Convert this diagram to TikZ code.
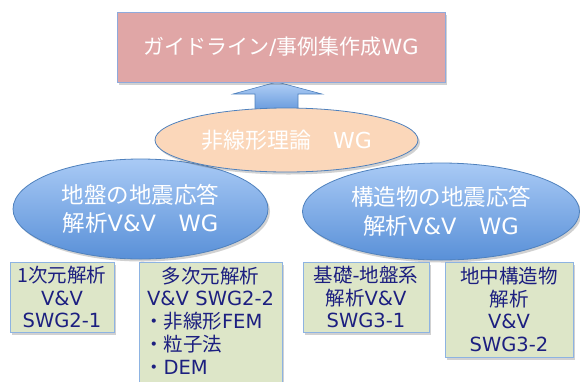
\documentclass[tikz,border=0pt]{standalone}
\usepackage{fontspec}
\setmainfont{Noto Sans CJK JP}
\newfontfamily\latfont{DejaVu Sans}
\newcommand\latn[1]{{\latfont #1}}
\usetikzlibrary{shapes.geometric,shadows}
\definecolor{topfill}{HTML}{E0A6A6}
\definecolor{topdraw}{HTML}{8FAADC}
\definecolor{peach}{HTML}{FBD7BA}
\definecolor{edgeblue}{HTML}{4F81BD}
\definecolor{elltop}{HTML}{A9CAF5}
\definecolor{ellbot}{HTML}{5990D8}
\definecolor{boxfill}{HTML}{DDE6C8}
\definecolor{boxdraw}{HTML}{8DB3E2}
\definecolor{navy}{HTML}{1C1F80}
\tikzset{
  softshadow/.style={drop shadow={shadow xshift=2pt,shadow yshift=-2.5pt,opacity=0.3,fill=black!60}},
  blueell/.style={ellipse,draw=edgeblue,line width=0.8pt,top color=elltop,bottom color=ellbot,
    inner sep=0pt,align=center,text=white,font=\fontsize{22.5}{28.5}\selectfont,softshadow},
  subbox/.style={rectangle,draw=boxdraw,line width=1pt,fill=boxfill,softshadow},
  boxtext/.style={text=navy,font=\fontsize{19.5}{22.8}\selectfont,inner sep=0pt,align=center}
}
\begin{document}
\begin{tikzpicture}[x=1pt,y=-1pt]
\useasboundingbox (0,0) rectangle (580,381);
\clip (0,0) rectangle (580,381);
% blue ellipses
\node[blueell,minimum width=255pt,minimum height=100pt] (gnd) at (140.5,209)
  {地盤の地震応答\\解析\latn{V\&V}　\latn{WG}};
\node[blueell,minimum width=277pt,minimum height=97pt] (str) at (441,211.5)
  {構造物の地震応答\\解析\latn{V\&V}　\latn{WG}};
% sub boxes
\node[subbox,minimum width=104pt,minimum height=70pt] (b1) at (62,297) {};
\node[boxtext] (t1) at (b1.center) {1次元解析\\\latn{V\&V}\\\latn{SWG2-1}};
\node[subbox,minimum width=143pt,minimum height=140pt] (b2) at (210.5,332) {};
\node[boxtext,text width=133pt,align=left,font=\fontsize{19.5}{22.8}\selectfont] (t2) at (210.5,320.5)
  {\makebox[\linewidth]{多次元解析}\\\makebox[\linewidth]{\latn{V\&V SWG2-2}}\\・非線形\latn{FEM}\\・粒子法\\・\latn{DEM}};
\node[subbox,minimum width=126pt,minimum height=70pt] (b3) at (366,297) {};
\node[boxtext] (t3) at (b3.center) {基礎\latn{-}地盤系\\解析\latn{V\&V}\\\latn{SWG3-1}};
\node[subbox,minimum width=128pt,minimum height=95pt] (b4) at (509,309.5) {};
\node[boxtext] (t4) at (b4.center) {地中構造物\\解析\\\latn{V\&V}\\\latn{SWG3-2}};
% arrow
\coordinate (tip) at (277,82);
\shade[top color=elltop!90!white,bottom color=ellbot,draw=edgeblue,line width=0.6pt]
  (tip) -- ++(45,12) -- ++(-24,0) -- ++(0,22) -- ++(-43,0) -- ++(0,-22) -- ++(-22,0) -- cycle;
% nonlinear theory ellipse
\node[ellipse,draw=edgeblue,line width=0.8pt,fill=peach,minimum width=263pt,minimum height=64pt,
  inner sep=0pt,text=white,font=\fontsize{22}{26}\selectfont,softshadow] (nl) at (286.5,140) {非線形理論　\latn{WG}};
% top box
\node[rectangle,draw=topdraw,line width=0.8pt,fill=topfill,minimum width=328pt,minimum height=70pt,
  text=white,font=\fontsize{21}{25}\selectfont,softshadow] (top) at (281,47) {ガイドライン\latn{/}事例集作成\latn{WG}};
\end{tikzpicture}
\end{document}
